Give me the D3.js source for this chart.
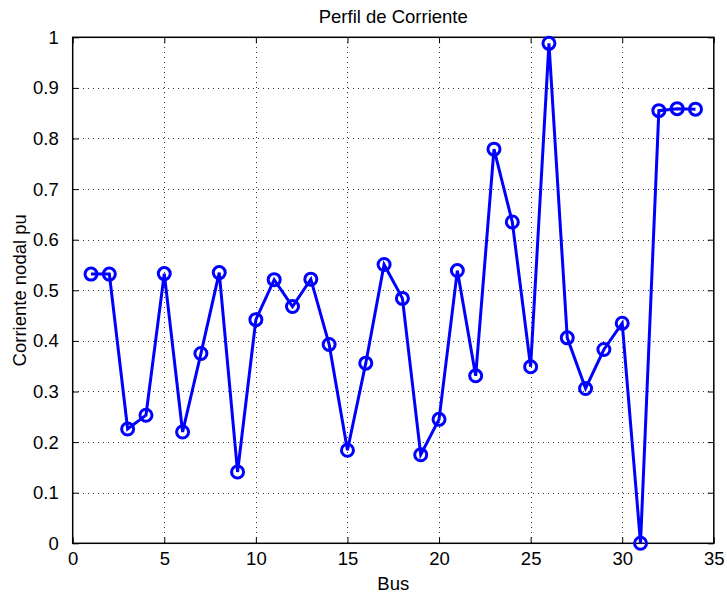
<!DOCTYPE html>
<html>
<head>
<meta charset="utf-8">
<script src="https://cdn.jsdelivr.net/npm/d3@7"></script>
<style>
  html, body { margin: 0; padding: 0; background: #fff; }
  svg { display: block; font-family: "Liberation Sans", Arial, Helvetica, sans-serif; }
</style>
</head>
<body>
<svg id="chart" width="727" height="596"></svg>
<script>
// Nodal current per bus (pu)
const buses = d3.range(1, 35);
const corriente = [
  0.532, 0.532, 0.226, 0.253, 0.533, 0.220, 0.375, 0.535, 0.141, 0.442,
  0.521, 0.468, 0.522, 0.393, 0.184, 0.356, 0.551, 0.484, 0.175, 0.245,
  0.539, 0.331, 0.779, 0.635, 0.349, 0.988, 0.406, 0.306, 0.383, 0.435,
  0.000, 0.855, 0.859, 0.858
];
const xTicks = [0, 5, 10, 15, 20, 25, 30, 35];
const yTicks = [0, 0.1, 0.2, 0.3, 0.4, 0.5, 0.6, 0.7, 0.8, 0.9, 1];

const title = "Perfil de Corriente";
const xLabel = "Bus";
const yLabel = "Corriente nodal pu";

const svg = d3.select("#chart");
const plotLeft = 72.7, plotRight = 713.8, plotTop = 37.3, plotBottom = 543.3;
const fontSize = 18.5;

const x = d3.scaleLinear().domain([0, 35]).range([plotLeft, plotRight]);
const y = d3.scaleLinear().domain([0, 1]).range([plotBottom, plotTop]);

// dotted grid
const grid = svg.append("g").attr("stroke", "#333").attr("stroke-width", 1)
  .attr("stroke-dasharray", "1,4").attr("shape-rendering", "crispEdges");
grid.selectAll("line.gx").data(xTicks.slice(1, -1)).join("line")
  .attr("x1", d => Math.round(x(d)) + 0.5).attr("x2", d => Math.round(x(d)) + 0.5)
  .attr("y1", plotBottom).attr("y2", plotTop);
grid.selectAll("line.gy").data(yTicks.slice(1, -1)).join("line")
  .attr("y1", d => Math.round(y(d)) + 0.5).attr("y2", d => Math.round(y(d)) + 0.5)
  .attr("x1", plotLeft).attr("x2", plotRight);

// axes with inward ticks on all four sides
const fmt = d => d3.format("~g")(d);
const axB = svg.append("g").attr("transform", `translate(0,${plotBottom})`)
  .call(d3.axisBottom(x).tickValues(xTicks).tickSize(-6).tickPadding(9).tickFormat(fmt));
const axT = svg.append("g").attr("transform", `translate(0,${plotTop})`)
  .call(d3.axisTop(x).tickValues(xTicks).tickSize(-6).tickFormat(""));
const axL = svg.append("g").attr("transform", `translate(${plotLeft},0)`)
  .call(d3.axisLeft(y).tickValues(yTicks).tickSize(-6).tickPadding(14).tickFormat(fmt));
const axR = svg.append("g").attr("transform", `translate(${plotRight},0)`)
  .call(d3.axisRight(y).tickValues(yTicks).tickSize(-6).tickFormat(""));

[axB, axT, axL, axR].forEach(g => {
  g.select(".domain").remove();
  g.selectAll(".tick line").attr("stroke", "#000").attr("stroke-width", 1);
  g.selectAll("text").attr("font-size", fontSize).attr("fill", "#000")
    .attr("font-family", "'Liberation Sans', Arial, sans-serif");
});

// axes box
svg.append("rect").attr("x", plotLeft).attr("y", plotTop)
  .attr("width", plotRight - plotLeft).attr("height", plotBottom - plotTop)
  .attr("fill", "none").attr("stroke", "#000").attr("stroke-width", 1.5);

// series line and markers
const pts = buses.map((b, i) => [b, corriente[i]]);
svg.append("path").datum(pts)
  .attr("d", d3.line().x(d => x(d[0])).y(d => y(d[1])))
  .attr("fill", "none").attr("stroke", "#0000ff").attr("stroke-width", 3)
  .attr("stroke-linejoin", "miter");
svg.append("g").selectAll("circle").data(pts).join("circle")
  .attr("cx", d => x(d[0])).attr("cy", d => y(d[1])).attr("r", 6)
  .attr("fill", "none").attr("stroke", "#0000ff").attr("stroke-width", 3);

// labels
svg.append("text").attr("x", (plotLeft + plotRight) / 2).attr("y", 23)
  .attr("text-anchor", "middle").attr("font-size", fontSize).text(title);
svg.append("text").attr("x", (plotLeft + plotRight) / 2).attr("y", 590)
  .attr("text-anchor", "middle").attr("font-size", fontSize).text(xLabel);
svg.append("text").attr("transform", `translate(26,${(plotTop + plotBottom) / 2}) rotate(-90)`)
  .attr("text-anchor", "middle").attr("font-size", fontSize).text(yLabel);
</script>
</body>
</html>
